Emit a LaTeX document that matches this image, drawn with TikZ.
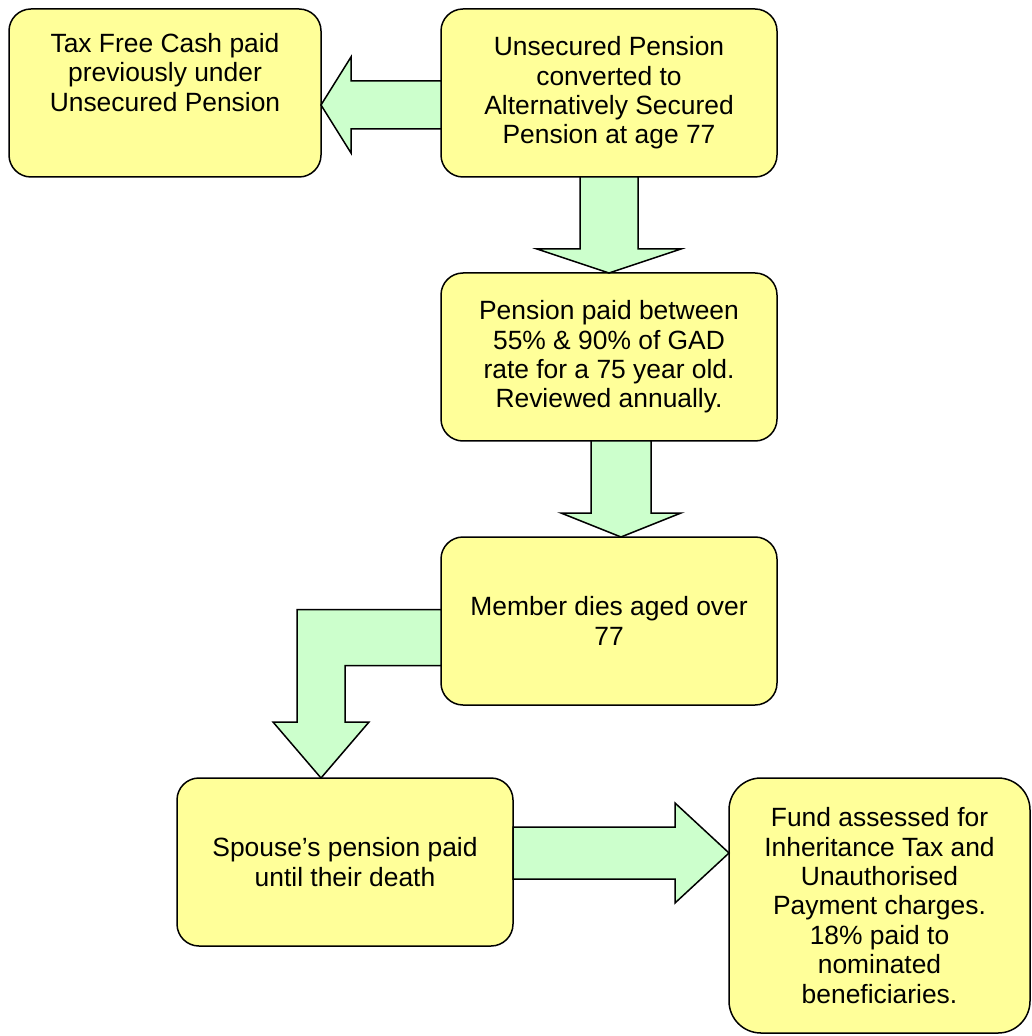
\documentclass[tikz,border=0pt]{standalone}
\usepackage{fontspec}
\setmainfont{Liberation Sans}
\usepackage{xcolor}
\usepackage{tikz}
\usetikzlibrary{positioning,calc}
\definecolor{boxyellow}{HTML}{FFFF99}
\definecolor{arrowgreen}{HTML}{CCFFCC}

\begin{document}
\begin{tikzpicture}[
  x=0.5pt, y=-0.5pt,
  node distance=48pt and 60pt,
  box/.style={draw, line width=0.75pt, rounded corners=11pt, fill=boxyellow,
    align=center, inner sep=0pt, outer sep=0pt, font=\fontsize{13.2}{14.7}\selectfont},
  stdbox/.style={box, minimum width=168pt, minimum height=84pt},
  arr/.style={draw, line width=0.75pt, fill=arrowgreen, line join=miter}
]
  \useasboundingbox (0,0) rectangle (1031,1036);

  \node[box, minimum width=156pt, minimum height=84pt, anchor=north west] (taxfree) at (9,9)
    {Tax Free Cash paid\\previously under\\Unsecured Pension\\[6pt]\mbox{}};
  \node[stdbox, right=60pt of taxfree] (unsecured)
    {Unsecured Pension\\converted to\\Alternatively Secured\\Pension at age 77};
  \node[stdbox, below=48pt of unsecured] (pension)
    {Pension paid between\\55\% \& 90\% of GAD\\rate for a 75 year old.\\Reviewed annually.};
  \node[stdbox, below=48pt of pension] (dies) {Member dies aged over\\77};
  \node[stdbox, below left=36.5pt and -36pt of dies] (spouse)
    {Spouse’s pension paid\\until their death};
  \node[box, rounded corners=16pt, minimum width=150.5pt, minimum height=127.5pt,
    right=108pt of spouse.north east, anchor=north west] (fund)
    {Fund assessed for\\Inheritance Tax and\\Unauthorised\\Payment charges.\\18\% paid to\\nominated\\beneficiaries.};

  \coordinate (ls) at ($(unsecured.west)+(0,12)$);
  \coordinate (lt) at (taxfree.east |- ls);
  \draw[arr] ($(ls)+(0,-24)$) -- ($(lt)+(30,-24)$) -- ($(lt)+(30,-48)$) -- (lt)
    -- ($(lt)+(30,48)$) -- ($(lt)+(30,24)$) -- ($(ls)+(0,24)$) -- cycle;

  \draw[arr] ($(unsecured.south)+(-29,0)$) -- ($(pension.north)+(-29,-24)$)
    -- ($(pension.north)+(-72,-24)$) -- (pension.north) -- ($(pension.north)+(72,-24)$)
    -- ($(pension.north)+(29,-24)$) -- ($(unsecured.south)+(29,0)$) -- cycle;

  \coordinate (ds) at ($(pension.south)+(12,0)$);
  \coordinate (dt) at (ds |- dies.north);
  \draw[arr] ($(ds)+(-30,0)$) -- ($(dt)+(-30,-24)$) -- ($(dt)+(-60,-24)$) -- (dt)
    -- ($(dt)+(60,-24)$) -- ($(dt)+(30,-24)$) -- ($(ds)+(30,0)$) -- cycle;

  \coordinate (es) at ($(dies.west)+(0,-11.5)$);
  \coordinate (eb) at ($(es)+(0,56)$);
  \coordinate (et) at ($(spouse.north)+(-24,0)$);
  \coordinate (el) at ($(et)+(-24,0)$);
  \coordinate (er) at ($(et)+(24,0)$);
  \draw[arr] (es) -- (el |- es) -- ($(et)+(-24,-56)$) -- ($(et)+(-48,-56)$)
    -- (et) -- ($(et)+(48,-56)$) -- ($(et)+(24,-56)$) -- (er |- eb) -- (eb) -- cycle;

  \coordinate (rs) at ($(spouse.east)+(0,-9)$);
  \coordinate (rt) at (fund.west |- rs);
  \draw[arr] ($(rs)+(0,-26)$) -- ($(rt)+(-54,-26)$) -- ($(rt)+(-54,-50)$) -- (rt)
    -- ($(rt)+(-54,50)$) -- ($(rt)+(-54,26)$) -- ($(rs)+(0,26)$) -- cycle;
\end{tikzpicture}
\end{document}
